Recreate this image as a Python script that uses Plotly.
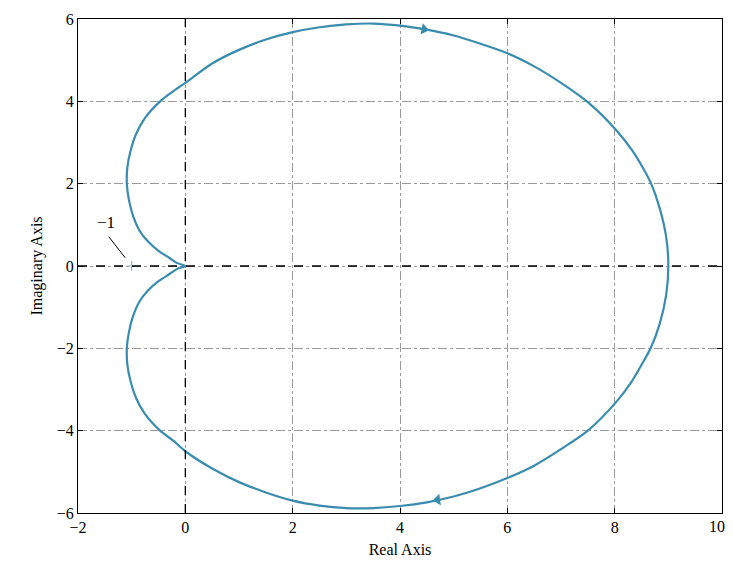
import plotly.graph_objects as go

# Nyquist curve, upper half (origin -> leftward loop -> top -> real axis crossing)
upper_re = [0, -0.15, -0.3, -0.5, -0.7, -0.85, -0.97, -1.05, -1.09, -1.08, -1.02, -0.92, -0.75, -0.47,
            -0.22, 0, 0.5, 1.0, 1.5, 2.0, 2.5, 3.0, 3.5, 4.0, 4.5, 5.0, 5.5, 6.0, 6.5, 7.0, 7.5, 8.03,
            8.32, 8.52, 8.68, 8.84, 8.96, 9.0]
upper_im = [0, 0.07, 0.2, 0.37, 0.6, 0.85, 1.2, 1.6, 2.0, 2.4, 2.8, 3.2, 3.6, 4.0,
            4.25, 4.45, 4.92, 5.25, 5.5, 5.68, 5.8, 5.87, 5.89, 5.84, 5.74, 5.6, 5.4, 5.17, 4.85, 4.45, 3.98, 3.3,
            2.82, 2.4, 2.0, 1.4, 0.7, 0]

# lower half (real axis crossing -> bottom -> leftward loop -> origin)
lower_re = [8.96, 8.84, 8.67, 8.5, 8.32, 8.03, 7.5, 7.0, 6.5, 6.0, 5.5, 5.0, 4.5, 4.0, 3.5, 3.0, 2.5, 2.0,
            1.5, 1.0, 0.5, 0, -0.22, -0.47, -0.75, -0.92, -1.02, -1.08, -1.09, -1.05, -0.97, -0.85,
            -0.7, -0.5, -0.3, -0.15, 0]
lower_im = [-0.7, -1.4, -2.0, -2.4, -2.8, -3.3, -4.0, -4.45, -4.85, -5.15, -5.4, -5.6, -5.74, -5.83, -5.88,
            -5.88, -5.82, -5.7, -5.5, -5.25, -4.92, -4.5, -4.25, -4.0, -3.6, -3.2, -2.8, -2.4, -2.0, -1.6,
            -1.2, -0.85, -0.6, -0.37, -0.2, -0.07, 0]

# direction arrows on the curve
arrow_re = [4.45, 4.7]
arrow_im = [5.75, -5.68]
arrow_sym = ["triangle-right", "triangle-left"]
arrow_ang = [11, -8]

# critical point
crit_re = [-1]
crit_im = [0]

xticks = [-2, 0, 2, 4, 6, 8, 10]
# last label drawn separately so it is not clipped at the page edge
xticktext = ["\u22122", "0", "2", "4", "6", "8", ""]
yticks = [-6, -4, -2, 0, 2, 4, 6]

curve = "#3a8cae"
serif = "Liberation Serif, Times New Roman, serif"

fig = go.Figure()

fig.add_hline(y=0, line_dash="dash", line_color="black", line_width=1.3)
fig.add_vline(x=0, line_dash="dash", line_color="black", line_width=1.3)

fig.add_trace(go.Scatter(x=upper_re + lower_re, y=upper_im + lower_im, mode="lines",
                         line=dict(color=curve, width=2.2, shape="spline", smoothing=0.8),
                         hoverinfo="skip"))
fig.add_trace(go.Scatter(x=arrow_re, y=arrow_im, mode="markers",
                         marker=dict(symbol=arrow_sym, angle=arrow_ang, size=10, color=curve)))
fig.add_trace(go.Scatter(x=crit_re, y=crit_im, mode="markers",
                         marker=dict(symbol="cross-thin", size=7, line=dict(color="#8ab8c8", width=1.2))))

# "-1" label with leader line
fig.add_annotation(x=-1.12, y=0.2, ax=-1.45, ay=0.75, axref="x", ayref="y",
                   text="", showarrow=True, arrowhead=0, arrowwidth=1, arrowcolor="black")
fig.add_annotation(x=-1.48, y=1.05, text="\u22121", showarrow=False,
                   font=dict(family=serif, size=17, color="black"))

# "10" tick label, right-aligned near the tick
fig.add_annotation(x=xticks[-1], y=0, yref="paper", xanchor="right", yanchor="top",
                   xshift=5, yshift=-3, text=str(xticks[-1]), showarrow=False,
                   font=dict(family=serif, size=16, color="black"))

axis_common = dict(
    showline=True, linecolor="black", linewidth=1.2, mirror="ticks",
    ticks="inside", ticklen=5, tickcolor="black",
    showgrid=True, gridcolor="#9a9a9a", gridwidth=1, griddash="dashdot",
    zeroline=False, automargin=False,
    tickfont=dict(family=serif, size=16, color="black"),
)

fig.update_xaxes(range=[-2, 10], tickvals=xticks, ticktext=xticktext,
                 title=dict(text="Real Axis", standoff=8,
                            font=dict(family=serif, size=16, color="black")), **axis_common)
fig.update_yaxes(range=[-6, 6], tickvals=yticks, title=dict(text="Imaginary Axis", standoff=10,
                 font=dict(family=serif, size=16, color="black")), **axis_common)

# page body has an 8px margin, so the figure is sized to fit inside the 733x567 window
fig.update_layout(
    width=725, height=551,
    showlegend=False,
    paper_bgcolor="white", plot_bgcolor="white",
    margin=dict(l=70, r=11, t=11, b=46),
)

fig.write_html("out.html")
